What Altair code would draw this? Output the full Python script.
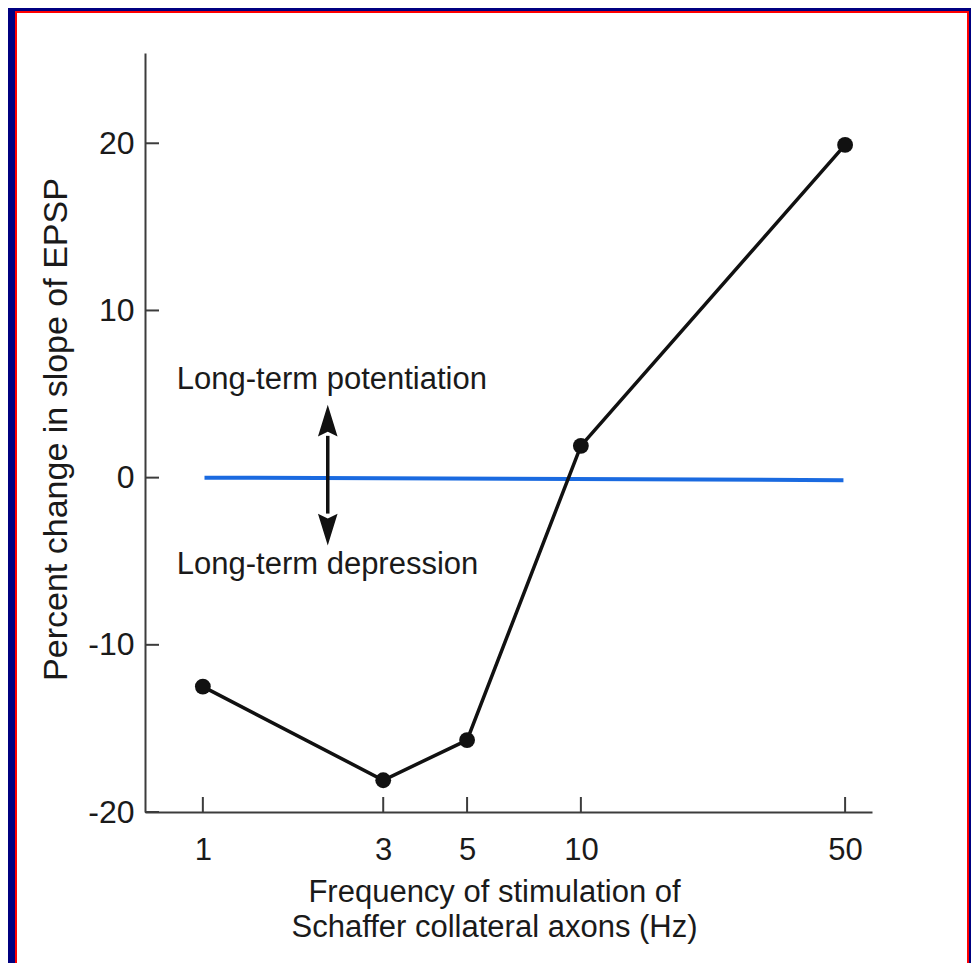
import altair as alt
import pandas as pd

# ---- data ----
freq = [1, 3, 5, 10, 50]
change = [-12.5, -18.1, -15.7, 1.9, 19.9]

base_x = [1.01, 49.5]
base_y = [0.0, -0.15]

y_ticks = [-20, -10, 0, 10, 20]
x_ticks = [1, 3, 5, 10, 50]

arrow_x = 2.14
arrow_shaft = [2.5, -2.15]
arrow_head_up_y = 3.41
arrow_head_down_y = -3.11

label_x = 0.853
labels = ["Long-term potentiation", "Long-term depression"]
label_y = [5.33, -5.75]

FONT = "Liberation Sans"
TXT = "#1a1a1a"
AX = "#3c3c3c"

W, H = 727, 759

xs = alt.Scale(type="log", domain=[0.703, 58.9], nice=False)
ys = alt.Scale(domain=[-20, 25.4], nice=False, zero=False)

df = pd.DataFrame({"freq": freq, "change": change})
base_df = pd.DataFrame({"x": base_x, "y": base_y})
yt_df = pd.DataFrame({"v": y_ticks})
xt_df = pd.DataFrame({"v": x_ticks})
shaft_df = pd.DataFrame({"x": [arrow_x], "y": [arrow_shaft[0]], "y2": [arrow_shaft[1]]})
up_df = pd.DataFrame({"x": [arrow_x], "y": [arrow_head_up_y]})
down_df = pd.DataFrame({"x": [arrow_x], "y": [arrow_head_down_y]})
lab_df = pd.DataFrame({"x": [label_x, label_x], "y": label_y, "t": labels})
one = alt.Data(values=[{"a": 1}])


def X(field):
    return alt.X(field, scale=xs)


def Y(field):
    return alt.Y(field, scale=ys)


# frame (red line + white sheet over navy background)
red = alt.Chart(one).mark_rect(color="#ff0000").encode(
    x=alt.value(-130), x2=alt.value(824), y=alt.value(-42), y2=alt.value(912))
white = alt.Chart(one).mark_rect(color="#ffffff").encode(
    x=alt.value(-128), x2=alt.value(822), y=alt.value(-40), y2=alt.value(912))

x_axis = alt.Axis(
    values=x_ticks, labelExpr="'' + datum.value", grid=False, ticks=False, tickSize=0,
    domainColor=AX, domainWidth=2, labelFont=FONT, labelFontSize=31, labelColor=TXT,
    labelPadding=23, titleFont=FONT, titleFontSize=31, titleFontWeight="normal",
    titleColor=TXT, titleLineHeight=35, titleX=349, titleY=65, titleBaseline="top",
    titleAlign="center", zindex=1)
y_axis = alt.Axis(
    values=y_ticks, labelExpr="'' + datum.value", grid=False, ticks=False, tickSize=0,
    domainColor=AX, domainWidth=2, labelFont=FONT, labelFontSize=32, labelColor=TXT,
    labelPadding=11, titleFont=FONT, titleFontSize=34, titleFontWeight="normal",
    titleColor=TXT, titleX=-89, titleY=376, titleAngle=270, titleBaseline="middle",
    titleAlign="center", zindex=1)

axes = alt.Chart(df).mark_point(opacity=0).encode(
    x=alt.X("freq:Q", scale=xs, axis=x_axis,
            title=["Frequency of stimulation of", "Schaffer collateral axons (Hz)"]),
    y=alt.Y("change:Q", scale=ys, axis=y_axis, title="Percent change in slope of EPSP"),
)

ytick = alt.Chart(yt_df).mark_rule(color=AX, strokeWidth=2).encode(
    y=Y("v:Q"), x=alt.value(0), x2=alt.value(14))
xtick = alt.Chart(xt_df).mark_rule(color=AX, strokeWidth=2).encode(
    x=X("v:Q"), y=alt.value(H), y2=alt.value(H - 15))

baseline = alt.Chart(base_df).mark_line(color="#1a6ae0", strokeWidth=4).encode(
    x=X("x:Q"), y=Y("y:Q"))

shaft = alt.Chart(shaft_df).mark_rule(color="#111111", strokeWidth=3.5).encode(
    x=X("x:Q"), y=Y("y:Q"), y2="y2:Q")
head_up = alt.Chart(up_df).mark_point(
    shape="M0,-1L0.62,1L0,0.7L-0.62,1Z", filled=True, size=1000, color="#111111", opacity=1
).encode(x=X("x:Q"), y=Y("y:Q"))
head_down = alt.Chart(down_df).mark_point(
    shape="M0,1L0.62,-1L0,-0.7L-0.62,-1Z", filled=True, size=1000, color="#111111", opacity=1
).encode(x=X("x:Q"), y=Y("y:Q"))

texts = alt.Chart(lab_df).mark_text(
    align="left", baseline="alphabetic", font=FONT, fontSize=31, color=TXT
).encode(x=X("x:Q"), y=Y("y:Q"), text="t:N")

line = alt.Chart(df).mark_line(color="#111111", strokeWidth=3.5).encode(
    x=X("freq:Q"), y=Y("change:Q"))
pts = alt.Chart(df).mark_point(filled=True, size=250, color="#111111", opacity=1).encode(
    x=X("freq:Q"), y=Y("change:Q"))

chart = alt.layer(
    red, white, axes, ytick, xtick, baseline, shaft, head_up, head_down, texts, line, pts
).properties(
    width=W, height=H,
    autosize=alt.AutoSizeParams(type="none"),
    padding={"left": 137, "top": 45, "right": 99, "bottom": 151},
    background="#000080",
).configure_view(strokeWidth=0).configure_axis(ticks=False)

chart.save("out.html", embed_options={"renderer": "svg", "actions": False})
